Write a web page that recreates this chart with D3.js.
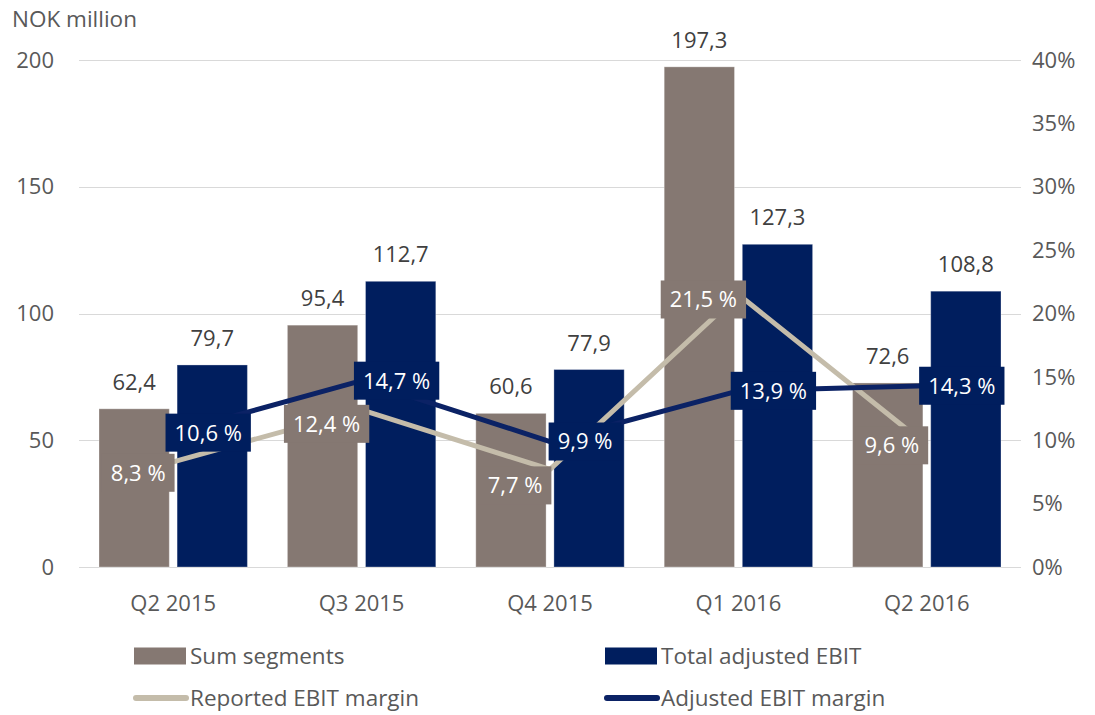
<!DOCTYPE html>
<html>
<head>
<meta charset="utf-8">
<script src="https://cdn.jsdelivr.net/npm/d3@7"></script>
<style>
  body { margin: 0; background: #fff; }
  text { font-family: "Open Sans", sans-serif; }
</style>
</head>
<body>
<svg id="chart" width="1095" height="715"></svg>
<script>
const categories = ["Q2 2015", "Q3 2015", "Q4 2015", "Q1 2016", "Q2 2016"];
const sumSegments = [62.4, 95.4, 60.6, 197.3, 72.6];
const totalAdjustedEbit = [79.7, 112.7, 77.9, 127.3, 108.8];
const reportedMargin = [8.3, 12.4, 7.7, 21.5, 9.6];
const adjustedMargin = [10.6, 14.7, 9.9, 13.9, 14.3];
const leftTicks = [0, 50, 100, 150, 200];
const rightTicks = [0, 5, 10, 15, 20, 25, 30, 35, 40];

// label nudges (px) for the reported margin labels, as placed in the original
const reportedLabelDy = [11, 14, 16, 5, 0];

const grey = "#857872";
const navy = "#001e5e";
const beige = "#c4bcaa";
const navyLine = "#0b2265";

const svg = d3.select("#chart");

const x = d3.scaleBand().domain(categories).range([79, 1021]);
const inner = d3
  .scaleBand()
  .domain(["sum", "adj"])
  .range([20, x.bandwidth() - 20])
  .paddingInner(0.1);
const y = d3.scaleLinear().domain([0, 200]).range([567, 60]);
const y2 = d3.scaleLinear().domain([0, 40]).range([567, 60]);

const fmt = (v) => v.toFixed(1).replace(".", ",");
const cx = (c) => x(c) + x.bandwidth() / 2;

// gridlines
svg
  .append("g")
  .selectAll("line")
  .data(leftTicks)
  .enter()
  .append("line")
  .attr("x1", 79)
  .attr("x2", 1021)
  .attr("y1", (d) => Math.round(y(d)) + 0.5)
  .attr("y2", (d) => Math.round(y(d)) + 0.5)
  .attr("stroke", "#d9d9d9")
  .attr("stroke-width", 1);

// left axis labels
svg
  .append("g")
  .selectAll("text")
  .data(leftTicks)
  .enter()
  .append("text")
  .attr("x", 54)
  .attr("y", (d) => y(d))
  .attr("dy", "0.35em")
  .attr("text-anchor", "end")
  .attr("fill", "#595959")
  .style("font-size", "22px")
  .text((d) => d);

// right axis labels
svg
  .append("g")
  .selectAll("text")
  .data(rightTicks)
  .enter()
  .append("text")
  .attr("x", 1032)
  .attr("y", (d) => y2(d))
  .attr("dy", "0.35em")
  .attr("fill", "#595959")
  .style("font-size", "22px")
  .text((d) => d + "%");

svg
  .append("text")
  .attr("x", 12)
  .attr("y", 27)
  .attr("fill", "#595959")
  .style("font-size", "22.5px")
  .text("NOK million");

// category labels
svg
  .append("g")
  .selectAll("text")
  .data(categories)
  .enter()
  .append("text")
  .attr("x", (d) => cx(d))
  .attr("y", 611)
  .attr("text-anchor", "middle")
  .attr("fill", "#595959")
  .style("font-size", "22px")
  .text((d) => d);

// bars
const barData = categories.flatMap((c, i) => [
  { cat: c, key: "sum", value: sumSegments[i], color: grey },
  { cat: c, key: "adj", value: totalAdjustedEbit[i], color: navy },
]);

const bars = svg.append("g");
bars
  .selectAll("rect")
  .data(barData)
  .enter()
  .append("rect")
  .attr("x", (d) => x(d.cat) + inner(d.key))
  .attr("width", inner.bandwidth())
  .attr("y", (d) => y(d.value))
  .attr("height", (d) => y(0) - y(d.value))
  .attr("fill", (d) => d.color)
  .attr("stroke", "#ffffff")
  .attr("stroke-opacity", 0.3)
  .attr("stroke-width", 1);

bars
  .selectAll("text")
  .data(barData)
  .enter()
  .append("text")
  .attr("x", (d) => x(d.cat) + inner(d.key) + inner.bandwidth() / 2)
  .attr("y", (d) => y(d.value) - 19)
  .attr("text-anchor", "middle")
  .attr("fill", "#404040")
  .style("font-size", "22px")
  .text((d) => fmt(d.value));

// margin lines
const line = d3
  .line()
  .x((d, i) => cx(categories[i]))
  .y((d) => y2(d));

svg
  .append("path")
  .attr("d", line(reportedMargin))
  .attr("fill", "none")
  .attr("stroke", beige)
  .attr("stroke-width", 5)
  .attr("stroke-linejoin", "round");

svg
  .append("path")
  .attr("d", line(adjustedMargin))
  .attr("fill", "none")
  .attr("stroke", navyLine)
  .attr("stroke-width", 5)
  .attr("stroke-linejoin", "round");

// margin labels with boxes
const labelData = [
  ...reportedMargin.map((v, i) => ({
    v,
    lx: cx(categories[i]) - 35,
    ly: y2(v) + reportedLabelDy[i],
    bg: grey,
  })),
  ...adjustedMargin.map((v, i) => ({
    v,
    lx: cx(categories[i]) + 35,
    ly: y2(v),
    bg: navy,
  })),
];

const labels = svg
  .append("g")
  .selectAll("g")
  .data(labelData)
  .enter()
  .append("g")
  .attr("transform", (d) => `translate(${d.lx},${d.ly})`);

labels
  .append("text")
  .attr("text-anchor", "middle")
  .attr("dy", "0.36em")
  .attr("fill", "#ffffff")
  .style("font-size", "22px")
  .text((d) => fmt(d.v) + " %");

labels.each(function (d) {
  const g = d3.select(this);
  const w = g.select("text").node().getComputedTextLength() + 18;
  g.insert("rect", "text")
    .attr("x", -w / 2)
    .attr("y", -19)
    .attr("width", w)
    .attr("height", 38)
    .attr("fill", d.bg);
});

// legend
const legend = svg.append("g");
const legendItems = [
  { label: "Sum segments", color: grey, type: "rect", lx: 134, ly: 656 },
  { label: "Total adjusted EBIT", color: navy, type: "rect", lx: 605, ly: 656 },
  { label: "Reported EBIT margin", color: beige, type: "line", lx: 134, ly: 698 },
  { label: "Adjusted EBIT margin", color: navyLine, type: "line", lx: 605, ly: 698 },
];

legendItems.forEach((d) => {
  if (d.type === "rect") {
    legend
      .append("rect")
      .attr("x", d.lx)
      .attr("y", d.ly - 8.5)
      .attr("width", 52)
      .attr("height", 17)
      .attr("fill", d.color);
  } else {
    legend
      .append("line")
      .attr("x1", d.lx + 2)
      .attr("x2", d.lx + 52)
      .attr("y1", d.ly)
      .attr("y2", d.ly)
      .attr("stroke", d.color)
      .attr("stroke-width", 6)
      .attr("stroke-linecap", "round");
  }
  legend
    .append("text")
    .attr("x", d.lx + 56)
    .attr("y", d.ly)
    .attr("dy", "0.36em")
    .attr("fill", "#595959")
    .style("font-size", "22.5px")
    .text(d.label);
});
</script>
</body>
</html>
